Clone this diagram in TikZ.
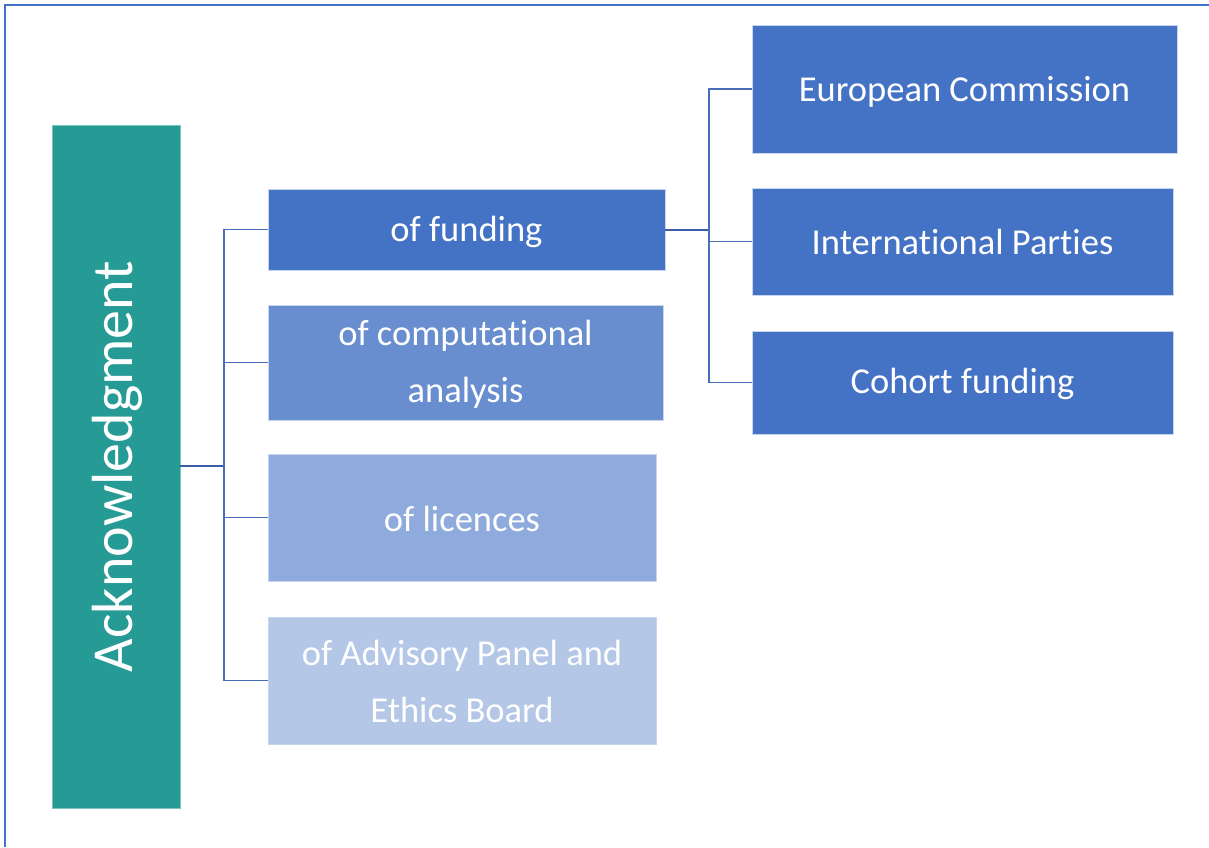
\documentclass[tikz,border=0pt]{standalone}
\usepackage{fontspec}
\setmainfont[Ligatures={NoCommon,NoRare,NoContextual},Contextuals={NoAlternate}]{Carlito}
\definecolor{teal1}{HTML}{269A95}
\definecolor{blue1}{HTML}{4472C4}
\definecolor{blue2}{HTML}{698ED0}
\definecolor{blue3}{HTML}{8FAADC}
\definecolor{blue4}{HTML}{B4C7E7}
\definecolor{linec}{HTML}{4A6DB8}
\definecolor{stubc}{HTML}{3A5EA8}
\begin{document}
\begin{tikzpicture}[x=1pt,y=-1pt,
  box/.style={rectangle, inner sep=0pt, text=white, font=\fontsize{36.5}{57}\selectfont, align=center, draw=white!70!blue1, line width=0.6pt},
  txt/.style={text=white, font=\fontsize{36.5}{57}\selectfont, align=center, inner sep=0pt},
  branch/.style={draw=linec, line width=1.4pt},
  stub/.style={draw=stubc, line width=2pt}]
\useasboundingbox (0,0) rectangle (1209,847);
\draw[blue1, line width=2.2pt] (5,847) -- (5,5) -- (1209,5);
% left box
\node[box, fill=teal1, draw=teal1!60!white, minimum width=128pt, minimum height=683pt] (ack) at (116,466.5) {};
\node[rotate=90, text=white, font=\fontsize{58}{60}\selectfont, inner sep=0pt] (acktext) at (117,466.5) {Acknowledgment};
% second level
\node[box, fill=blue1, minimum width=397pt, minimum height=81pt] (fund) at (466.5,229.5) {};
\node[txt] (fundt) at (466.5,231.5) {of funding};
\node[box, fill=blue2, minimum width=395pt, minimum height=115pt] (comp) at (465.5,362.5) {};
\node[txt] (compt) at (465.5,364) {of computational\\analysis};
\node[box, fill=blue3, minimum width=388pt, minimum height=127pt] (lic) at (462,517.5) {};
\node[txt] (lict) at (462,518.5) {of licences};
\node[box, fill=blue4, minimum width=388pt, minimum height=127pt] (adv) at (462,680.5) {};
\node[txt] (advt) at (462,681.5) {of Advisory Panel and\\Ethics Board};
% third level
\node[box, fill=blue1, minimum width=425pt, minimum height=128pt] (ec) at (964.5,89) {};
\node[txt] (ect) at (964.5,91.5) {European Commission};
\node[box, fill=blue1, minimum width=421pt, minimum height=107pt] (ip) at (962.5,241.5) {};
\node[txt] (ipt) at (962.5,241.5) {International Parties};
\node[box, fill=blue1, minimum width=421pt, minimum height=103pt] (cf) at (962.5,382.5) {};
\node[txt] (cft) at (962.5,384) {Cohort funding};
% connectors left
\coordinate (jl) at (224,466);
\draw[stub] (ack.east |- jl) -- (jl);
\draw[branch] (jl) |- (fund.west);
\draw[branch] (jl) |- (comp.west);
\draw[branch] (jl) |- (lic.west);
\draw[branch] (jl) |- (adv.west);
% connectors right
\coordinate (jr) at (709,230);
\draw[stub] (fund.east |- jr) -- (jr);
\draw[branch] (jr) |- (ec.west);
\draw[branch] (jr) |- (ip.west);
\draw[branch] (jr) |- (cf.west);
\end{tikzpicture}
\end{document}
